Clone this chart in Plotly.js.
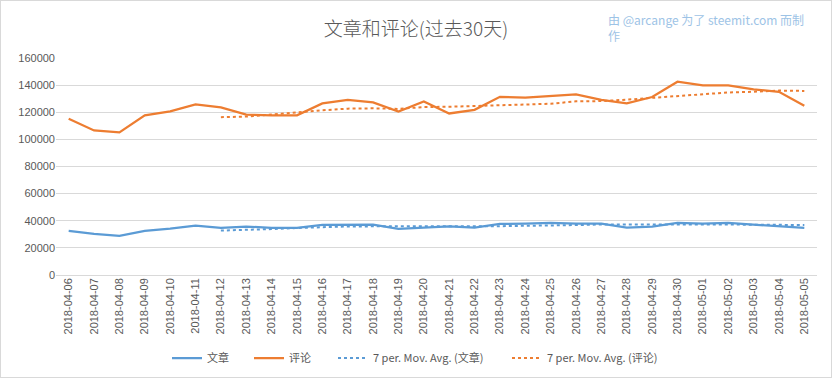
<!DOCTYPE html>
<html>
<head>
<meta charset="utf-8">
<script src="https://cdn.plot.ly/plotly-3.0.1.min.js"></script>
<style>
html,body{margin:0;padding:0;background:#fff;}
#wrap{position:relative;width:832px;height:378px;}
#chart{position:absolute;left:0;top:0;width:832px;height:378px;}
#frame{position:absolute;left:0;top:0;width:832px;height:378px;box-sizing:border-box;border:1px solid #D9D9D9;pointer-events:none;}
</style>
</head>
<body>
<div id="wrap"><div id="chart"></div><div id="frame"></div></div>
<script>
const dates = ["2018-04-06","2018-04-07","2018-04-08","2018-04-09","2018-04-10","2018-04-11","2018-04-12","2018-04-13","2018-04-14","2018-04-15","2018-04-16","2018-04-17","2018-04-18","2018-04-19","2018-04-20","2018-04-21","2018-04-22","2018-04-23","2018-04-24","2018-04-25","2018-04-26","2018-04-27","2018-04-28","2018-04-29","2018-04-30","2018-05-01","2018-05-02","2018-05-03","2018-05-04","2018-05-05"];
const posts = [32500,30300,28800,32500,34200,36400,34700,35700,34700,34700,36900,37200,37200,34000,35000,35900,35000,37700,37900,38400,37900,37900,35000,35700,38400,37900,38400,37200,35700,34700];
const comments = [115200,106600,105100,117700,120600,125800,123600,118200,117700,117700,126500,129200,127300,120600,128000,119100,121800,131400,130700,132200,133200,129200,126500,131200,142500,139800,139800,136900,135100,124800];
const maPeriod = 7;
const yTicks = [0,20000,40000,60000,80000,100000,120000,140000,160000];

function movAvg(arr, n){
  const xs = [], ys = [];
  for (let i = n-1; i < arr.length; i++){
    let s = 0;
    for (let j = i-n+1; j <= i; j++) s += arr[j];
    xs.push(dates[i]); ys.push(s/n);
  }
  return {x: xs, y: ys};
}
const maPosts = movAvg(posts, maPeriod);
const maComments = movAvg(comments, maPeriod);

const blue = '#5B9BD5', orange = '#ED7D31';
const font = "'Noto Sans CJK SC', 'Liberation Sans', sans-serif";

const traces = [
  {x: dates, y: posts, name: '文章', type: 'scatter', mode: 'lines', line: {color: blue, width: 2.25}, legend: 'legend'},
  {x: dates, y: comments, name: '评论', type: 'scatter', mode: 'lines', line: {color: orange, width: 2.25}, legend: 'legend2'},
  {x: maPosts.x, y: maPosts.y, name: '7 per. Mov. Avg. (文章)', type: 'scatter', mode: 'lines', line: {color: blue, width: 2, dash: 'dot'}, legend: 'legend3'},
  {x: maComments.x, y: maComments.y, name: '7 per. Mov. Avg. (评论)', type: 'scatter', mode: 'lines', line: {color: orange, width: 2, dash: 'dot'}, legend: 'legend4'}
];

function leg(px){
  return {orientation: 'h', xref: 'container', yref: 'container', x: px/832, xanchor: 'left', y: 1 - 358/378, yanchor: 'middle', font: {size: 11, color: '#595959'}, bgcolor: 'rgba(0,0,0,0)', borderwidth: 0};
}

const layout = {
  width: 832, height: 378,
  margin: {l: 56, r: 15, t: 58, b: 103},
  paper_bgcolor: '#fff', plot_bgcolor: '#fff',
  font: {family: font, color: '#595959', size: 11},
  title: {text: '文章和评论(过去30天)', x: 0.5, xanchor: 'center', xref: 'container', yref: 'container', y: 1 - 29/378, yanchor: 'middle', font: {family: font, size: 19, color: '#595959', weight: 300}},
  showlegend: true,
  legend: leg(167),
  legend2: leg(249),
  legend3: leg(333),
  legend4: leg(507),
  xaxis: {type: 'category', tickangle: -90, showgrid: false, zeroline: false, showline: false, ticks: '', tickfont: {size: 11, family: "'Liberation Sans', sans-serif", color: '#595959'}, range: [-0.5, dates.length - 0.5]},
  yaxis: {range: [0, 160000], tickvals: yTicks, ticktext: yTicks.map(String), showgrid: true, gridcolor: '#D9D9D9', gridwidth: 1, zeroline: true, zerolinecolor: '#D9D9D9', showline: false, ticks: '', tickfont: {size: 11, family: "'Liberation Sans', sans-serif", color: '#595959'}, fixedrange: true},
  annotations: [
    {xref: 'paper', yref: 'paper', x: (606 - 56) / 761, y: 1 + (58 - 27) / 217, xanchor: 'left', yanchor: 'middle', text: '由 @arcange 为了 steemit.com 而制<br>作', showarrow: false, align: 'left', font: {family: font, size: 12, color: '#9DC3E6'}}
  ],
  hovermode: false
};

Plotly.newPlot('chart', traces, layout, {displayModeBar: false, staticPlot: true});
</script>
</body>
</html>
